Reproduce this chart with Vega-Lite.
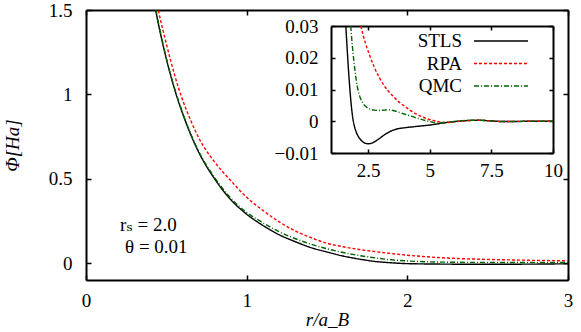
{
  "$schema": "https://vega.github.io/schema/vega-lite/v6.json",
  "width": 482,
  "height": 270,
  "autosize": {"type": "none"},
  "padding": {"left": 86, "top": 10, "right": 13, "bottom": 52},
  "background": "white",
  "config": {
    "view": {"stroke": null},
    "font": "Liberation Serif, DejaVu Serif, serif",
    "axis": {
      "grid": false,
      "domainColor": "black",
      "domainWidth": 2,
      "tickColor": "black",
      "tickWidth": 1.5,
      "labelFont": "Liberation Serif, DejaVu Serif, serif",
      "labelFontSize": 19,
      "labelColor": "black",
      "labelFlush": false,
      "labelOverlap": false,
      "titleFont": "Liberation Serif, DejaVu Serif, serif",
      "titleFontSize": 19,
      "titleFontWeight": "normal",
      "titleColor": "black"
    },
    "legend": {
      "orient": "none", "legendX": 405, "legendY": 21, "title": null, "symbolType": "M-3,0H3", "symbolSize": 324,
      "symbolStrokeWidth": 1.4, "symbolFillColor": "transparent", "labelAlign": "right", "labelOffset": -49, "labelFontSize": 19,
      "labelFont": "Liberation Serif, DejaVu Serif, serif", "labelColor": "black",
      "rowPadding": 2.5, "padding": 0, "symbolOffset": 0
    },
    "text": {"font": "Liberation Serif, DejaVu Serif, serif", "fontSize": 19, "color": "black"}
  },
  "datasets": {
    "main": [
      {"r": 0.40, "model": "STLS", "phi": 1.67}, {"r": 0.45, "model": "STLS", "phi": 1.42}, {"r": 0.50, "model": "STLS", "phi": 1.21},
      {"r": 0.55, "model": "STLS", "phi": 1.035}, {"r": 0.60, "model": "STLS", "phi": 0.89}, {"r": 0.65, "model": "STLS", "phi": 0.766},
      {"r": 0.70, "model": "STLS", "phi": 0.66}, {"r": 0.80, "model": "STLS", "phi": 0.50}, {"r": 0.90, "model": "STLS", "phi": 0.377},
      {"r": 1.00, "model": "STLS", "phi": 0.29}, {"r": 1.10, "model": "STLS", "phi": 0.224}, {"r": 1.20, "model": "STLS", "phi": 0.169},
      {"r": 1.30, "model": "STLS", "phi": 0.128}, {"r": 1.40, "model": "STLS", "phi": 0.092}, {"r": 1.50, "model": "STLS", "phi": 0.066},
      {"r": 1.60, "model": "STLS", "phi": 0.042}, {"r": 1.70, "model": "STLS", "phi": 0.024}, {"r": 1.80, "model": "STLS", "phi": 0.010},
      {"r": 1.90, "model": "STLS", "phi": 0.002}, {"r": 2.00, "model": "STLS", "phi": -0.003}, {"r": 2.25, "model": "STLS", "phi": -0.006},
      {"r": 2.50, "model": "STLS", "phi": -0.007}, {"r": 2.75, "model": "STLS", "phi": -0.006}, {"r": 3.00, "model": "STLS", "phi": -0.004},
      {"r": 0.40, "model": "RPA", "phi": 1.76}, {"r": 0.45, "model": "RPA", "phi": 1.50}, {"r": 0.50, "model": "RPA", "phi": 1.30},
      {"r": 0.55, "model": "RPA", "phi": 1.12}, {"r": 0.60, "model": "RPA", "phi": 0.97}, {"r": 0.65, "model": "RPA", "phi": 0.85},
      {"r": 0.70, "model": "RPA", "phi": 0.745}, {"r": 0.80, "model": "RPA", "phi": 0.60}, {"r": 0.90, "model": "RPA", "phi": 0.49},
      {"r": 1.00, "model": "RPA", "phi": 0.39}, {"r": 1.10, "model": "RPA", "phi": 0.313}, {"r": 1.20, "model": "RPA", "phi": 0.246},
      {"r": 1.30, "model": "RPA", "phi": 0.192}, {"r": 1.40, "model": "RPA", "phi": 0.151}, {"r": 1.50, "model": "RPA", "phi": 0.118},
      {"r": 1.60, "model": "RPA", "phi": 0.097}, {"r": 1.70, "model": "RPA", "phi": 0.081}, {"r": 1.80, "model": "RPA", "phi": 0.068},
      {"r": 1.90, "model": "RPA", "phi": 0.057}, {"r": 2.00, "model": "RPA", "phi": 0.047}, {"r": 2.25, "model": "RPA", "phi": 0.030},
      {"r": 2.50, "model": "RPA", "phi": 0.022}, {"r": 2.75, "model": "RPA", "phi": 0.017}, {"r": 3.00, "model": "RPA", "phi": 0.0135},
      {"r": 0.40, "model": "QMC", "phi": 1.68}, {"r": 0.45, "model": "QMC", "phi": 1.43}, {"r": 0.50, "model": "QMC", "phi": 1.215},
      {"r": 0.55, "model": "QMC", "phi": 1.04}, {"r": 0.60, "model": "QMC", "phi": 0.895}, {"r": 0.65, "model": "QMC", "phi": 0.77},
      {"r": 0.70, "model": "QMC", "phi": 0.665}, {"r": 0.80, "model": "QMC", "phi": 0.508}, {"r": 0.90, "model": "QMC", "phi": 0.386},
      {"r": 1.00, "model": "QMC", "phi": 0.30}, {"r": 1.10, "model": "QMC", "phi": 0.240}, {"r": 1.20, "model": "QMC", "phi": 0.187},
      {"r": 1.30, "model": "QMC", "phi": 0.146}, {"r": 1.40, "model": "QMC", "phi": 0.112}, {"r": 1.50, "model": "QMC", "phi": 0.085},
      {"r": 1.60, "model": "QMC", "phi": 0.063}, {"r": 1.70, "model": "QMC", "phi": 0.045}, {"r": 1.80, "model": "QMC", "phi": 0.031},
      {"r": 1.90, "model": "QMC", "phi": 0.020}, {"r": 2.00, "model": "QMC", "phi": 0.013}, {"r": 2.25, "model": "QMC", "phi": 0.0055},
      {"r": 2.50, "model": "QMC", "phi": 0.004}, {"r": 2.75, "model": "QMC", "phi": 0.0035}, {"r": 3.00, "model": "QMC", "phi": 0.0034}
    ],
    "inset": [
      {"r": 1.60, "model": "STLS", "phi": 0.030}, {"r": 1.65, "model": "STLS", "phi": 0.0235}, {"r": 1.70, "model": "STLS", "phi": 0.0172},
      {"r": 1.76, "model": "STLS", "phi": 0.0107}, {"r": 1.82, "model": "STLS", "phi": 0.0052}, {"r": 1.88, "model": "STLS", "phi": 0.0012},
      {"r": 1.94, "model": "STLS", "phi": -0.0013}, {"r": 2.00, "model": "STLS", "phi": -0.0029}, {"r": 2.10, "model": "STLS", "phi": -0.0047},
      {"r": 2.21, "model": "STLS", "phi": -0.0059}, {"r": 2.35, "model": "STLS", "phi": -0.0068}, {"r": 2.50, "model": "STLS", "phi": -0.0071},
      {"r": 2.65, "model": "STLS", "phi": -0.0069}, {"r": 2.80, "model": "STLS", "phi": -0.0063}, {"r": 2.95, "model": "STLS", "phi": -0.0055},
      {"r": 3.20, "model": "STLS", "phi": -0.0041}, {"r": 3.49, "model": "STLS", "phi": -0.0029}, {"r": 3.75, "model": "STLS", "phi": -0.0023},
      {"r": 4.04, "model": "STLS", "phi": -0.0020}, {"r": 4.50, "model": "STLS", "phi": -0.0016}, {"r": 5.00, "model": "STLS", "phi": -0.0012},
      {"r": 5.50, "model": "STLS", "phi": -0.0006}, {"r": 6.00, "model": "STLS", "phi": -0.0001}, {"r": 6.50, "model": "STLS", "phi": 0.0002},
      {"r": 7.00, "model": "STLS", "phi": 0.0003}, {"r": 7.50, "model": "STLS", "phi": 0.0001}, {"r": 8.00, "model": "STLS", "phi": -0.0001},
      {"r": 8.50, "model": "STLS", "phi": -0.0001}, {"r": 9.00, "model": "STLS", "phi": 0.0}, {"r": 10.00, "model": "STLS", "phi": 0.0},
      {"r": 2.21, "model": "RPA", "phi": 0.030}, {"r": 2.30, "model": "RPA", "phi": 0.0272}, {"r": 2.40, "model": "RPA", "phi": 0.0245},
      {"r": 2.54, "model": "RPA", "phi": 0.0213}, {"r": 2.75, "model": "RPA", "phi": 0.0171}, {"r": 2.95, "model": "RPA", "phi": 0.0139},
      {"r": 3.20, "model": "RPA", "phi": 0.0107}, {"r": 3.49, "model": "RPA", "phi": 0.0081}, {"r": 3.75, "model": "RPA", "phi": 0.0061},
      {"r": 4.04, "model": "RPA", "phi": 0.0044}, {"r": 4.30, "model": "RPA", "phi": 0.0030}, {"r": 4.58, "model": "RPA", "phi": 0.0018},
      {"r": 4.85, "model": "RPA", "phi": 0.0009}, {"r": 5.12, "model": "RPA", "phi": 0.0003}, {"r": 5.40, "model": "RPA", "phi": -0.0002},
      {"r": 5.70, "model": "RPA", "phi": -0.0004}, {"r": 6.00, "model": "RPA", "phi": -0.0002}, {"r": 6.50, "model": "RPA", "phi": 0.0002},
      {"r": 7.00, "model": "RPA", "phi": 0.0003}, {"r": 7.50, "model": "RPA", "phi": 0.0001}, {"r": 8.00, "model": "RPA", "phi": -0.0001},
      {"r": 9.00, "model": "RPA", "phi": 0.0}, {"r": 10.00, "model": "RPA", "phi": 0.0},
      {"r": 1.80, "model": "QMC", "phi": 0.030}, {"r": 1.86, "model": "QMC", "phi": 0.0242}, {"r": 1.93, "model": "QMC", "phi": 0.0188},
      {"r": 2.00, "model": "QMC", "phi": 0.0143}, {"r": 2.07, "model": "QMC", "phi": 0.0108}, {"r": 2.15, "model": "QMC", "phi": 0.0082},
      {"r": 2.27, "model": "QMC", "phi": 0.0060}, {"r": 2.40, "model": "QMC", "phi": 0.0047}, {"r": 2.54, "model": "QMC", "phi": 0.0040},
      {"r": 2.75, "model": "QMC", "phi": 0.0035}, {"r": 2.95, "model": "QMC", "phi": 0.0034}, {"r": 3.15, "model": "QMC", "phi": 0.0035},
      {"r": 3.36, "model": "QMC", "phi": 0.0036}, {"r": 3.56, "model": "QMC", "phi": 0.0033}, {"r": 3.76, "model": "QMC", "phi": 0.0028},
      {"r": 4.00, "model": "QMC", "phi": 0.0022}, {"r": 4.17, "model": "QMC", "phi": 0.0018}, {"r": 4.40, "model": "QMC", "phi": 0.0012},
      {"r": 4.58, "model": "QMC", "phi": 0.0008}, {"r": 4.85, "model": "QMC", "phi": 0.0002}, {"r": 5.12, "model": "QMC", "phi": -0.0003},
      {"r": 5.30, "model": "QMC", "phi": -0.0006}, {"r": 5.60, "model": "QMC", "phi": -0.0004}, {"r": 6.00, "model": "QMC", "phi": -0.0001},
      {"r": 6.50, "model": "QMC", "phi": 0.0003}, {"r": 7.00, "model": "QMC", "phi": 0.0003}, {"r": 7.50, "model": "QMC", "phi": 0.0001},
      {"r": 8.00, "model": "QMC", "phi": -0.0001}, {"r": 9.00, "model": "QMC", "phi": 0.0}, {"r": 10.00, "model": "QMC", "phi": 0.0}
    ],
    "notes": [{"t1": "rₛ = 2.0", "t2": "θ = 0.01"}]
  },
  "resolve": {"scale": {"x": "independent", "y": "independent"}},
  "layer": [
    {
      "data": {"name": "main"},
      "mark": {"type": "line", "clip": true, "strokeWidth": 1.4, "interpolate": "monotone"},
      "encoding": {
        "x": {"field": "r", "type": "quantitative",
          "scale": {"domain": [0, 3], "nice": false, "zero": false},
          "axis": {"orient": "bottom", "values": [0, 1, 2, 3], "format": ".6~g", "tickSize": -5, "labelPadding": 16,
            "title": "r/a_B", "titleFontStyle": "italic", "titlePadding": 0}},
        "y": {"field": "phi", "type": "quantitative",
          "scale": {"domain": [-0.1, 1.5], "nice": false, "zero": false},
          "axis": {"orient": "left", "values": [0, 0.5, 1, 1.5], "format": ".6~g", "tickSize": -5, "labelPadding": 19,
            "title": "Φ[Ha]", "titleFontStyle": "italic", "titlePadding": 26}},
        "color": {"field": "model", "type": "nominal",
          "scale": {"domain": ["STLS", "RPA", "QMC"], "range": ["#000000", "#ff0000", "#006400"]}},
        "strokeDash": {"field": "model", "type": "nominal",
          "scale": {"domain": ["STLS", "RPA", "QMC"], "range": [[1, 0], [3, 2], [5, 2, 1, 2]]}}
      }
    },
    {
      "data": {"name": "main"},
      "mark": {"type": "line", "opacity": 0},
      "encoding": {
        "x": {"field": "r", "type": "quantitative",
          "scale": {"domain": [0, 3], "nice": false, "zero": false},
          "axis": {"orient": "top", "values": [0, 1, 2, 3], "tickSize": -5, "labels": false, "title": null}},
        "y": {"field": "phi", "type": "quantitative",
          "scale": {"domain": [-0.1, 1.5], "nice": false, "zero": false},
          "axis": {"orient": "right", "values": [0, 0.5, 1, 1.5], "tickSize": -5, "labels": false, "title": null}},
        "detail": {"field": "model"}
      }
    },
    {
      "data": {"name": "notes"},
      "mark": {"type": "text", "align": "left", "baseline": "middle"},
      "encoding": {
        "x": {"datum": 0.212, "type": "quantitative", "scale": {"domain": [0, 3], "nice": false, "zero": false}, "axis": null},
        "y": {"datum": 0.227, "type": "quantitative", "scale": {"domain": [-0.1, 1.5], "nice": false, "zero": false}, "axis": null},
        "text": {"field": "t1"}
      }
    },
    {
      "data": {"name": "notes"},
      "mark": {"type": "text", "align": "left", "baseline": "middle"},
      "encoding": {
        "x": {"datum": 0.243, "type": "quantitative", "scale": {"domain": [0, 3], "nice": false, "zero": false}, "axis": null},
        "y": {"datum": 0.096, "type": "quantitative", "scale": {"domain": [-0.1, 1.5], "nice": false, "zero": false}, "axis": null},
        "text": {"field": "t2"}
      }
    },
    {
      "data": {"name": "inset"},
      "mark": {"type": "line", "strokeWidth": 1.4, "interpolate": "monotone"},
      "encoding": {
        "x": {"field": "r", "type": "quantitative",
          "scale": {"domain": [1, 10], "range": [245, 467], "nice": false, "zero": false},
          "axis": {"orient": "bottom", "offset": -127, "values": [2.5, 5, 7.5, 10], "format": ".6~g", "tickSize": -4, "labelPadding": 12, "title": null}},
        "y": {"field": "phi", "type": "quantitative",
          "scale": {"domain": [-0.01, 0.03], "range": [143, 16], "nice": false, "zero": false},
          "axis": {"orient": "left", "offset": -245, "values": [-0.01, 0, 0.01, 0.02, 0.03], "format": ".6~g", "tickSize": -4, "labelPadding": 17, "title": null}},
        "color": {"field": "model", "type": "nominal",
          "scale": {"domain": ["STLS", "RPA", "QMC"], "range": ["#000000", "#ff0000", "#006400"]}},
        "strokeDash": {"field": "model", "type": "nominal",
          "scale": {"domain": ["STLS", "RPA", "QMC"], "range": [[1, 0], [3, 2], [5, 2, 1, 2]]}}
      }
    },
    {
      "data": {"name": "inset"},
      "mark": {"type": "line", "opacity": 0},
      "encoding": {
        "x": {"field": "r", "type": "quantitative",
          "scale": {"domain": [1, 10], "range": [245, 467], "nice": false, "zero": false},
          "axis": {"orient": "top", "offset": -16, "values": [2.5, 5, 7.5, 10], "tickSize": -4, "labels": false, "title": null}},
        "y": {"field": "phi", "type": "quantitative",
          "scale": {"domain": [-0.01, 0.03], "range": [143, 16], "nice": false, "zero": false},
          "axis": {"orient": "right", "offset": -15, "values": [-0.01, 0, 0.01, 0.02, 0.03], "tickSize": -4, "labels": false, "title": null}},
        "detail": {"field": "model"}
      }
    }
  ]
}
